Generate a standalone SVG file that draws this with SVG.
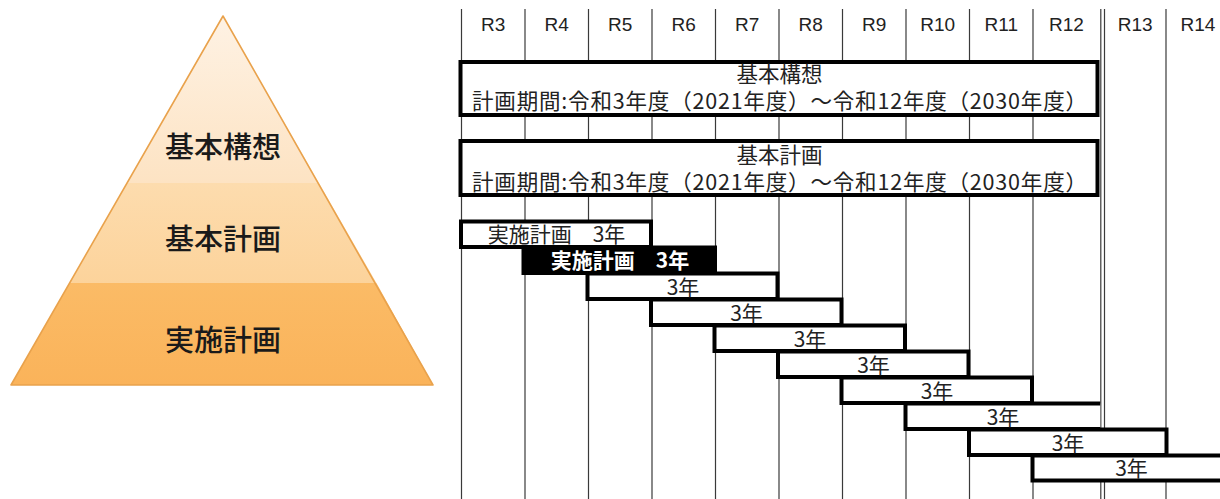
<svg xmlns="http://www.w3.org/2000/svg" width="1220" height="499" viewBox="0 0 1220 499">
<style>
.jp{font-family:"Noto Sans CJK JP","Noto Sans CJK SC",sans-serif;fill:#222;}
.hd{font-family:"Liberation Sans",Arial,sans-serif;font-size:19px;fill:#222;text-anchor:middle;}
.grid line{stroke:#3a3a3a;stroke-width:1.2;}
.box{fill:#fff;stroke:#000;stroke-width:4;}
.bt{font-family:"Noto Sans CJK JP","Noto Sans CJK SC",sans-serif;font-size:21px;fill:#222;text-anchor:middle;}
.pt{font-family:"Noto Sans CJK JP","Noto Sans CJK SC",sans-serif;font-size:29px;font-weight:500;fill:#1a1a1a;text-anchor:middle;}
</style>
<defs>
<linearGradient id="gTop" x1="0" y1="16" x2="0" y2="183" gradientUnits="userSpaceOnUse">
<stop offset="0" stop-color="#FEF2E4"/><stop offset="1" stop-color="#FDE3C3"/>
</linearGradient>
<linearGradient id="gMid" x1="0" y1="183" x2="0" y2="283" gradientUnits="userSpaceOnUse">
<stop offset="0" stop-color="#FDDCAE"/><stop offset="1" stop-color="#FCD39B"/>
</linearGradient>
<linearGradient id="gBot" x1="0" y1="283" x2="0" y2="385" gradientUnits="userSpaceOnUse">
<stop offset="0" stop-color="#FBBB66"/><stop offset="1" stop-color="#FAB35A"/>
</linearGradient>
</defs>
<rect width="1220" height="499" fill="#fff"/>

<g id="pyramid">
<g id="level-kihon-koso">
<polygon points="223,16 127.1,183 318.9,183" fill="url(#gTop)"/>
<text class="pt" x="223" y="158">基本構想</text>
</g>
<g id="level-kihon-keikaku">
<polygon points="127.1,183 318.9,183 376.4,283 69.6,283" fill="url(#gMid)"/>
<text class="pt" x="223" y="250">基本計画</text>
</g>
<g id="level-jisshi-keikaku">
<polygon points="69.6,283 376.4,283 433,385 11,385" fill="url(#gBot)"/>
<text class="pt" x="223" y="351">実施計画</text>
</g>
<polygon points="223,16 433,385 11,385" fill="none" stroke="#E9A24C" stroke-width="1.6" stroke-linejoin="round"/>
</g>

<g id="grid" class="grid">
<line x1="461.5" y1="9" x2="461.5" y2="499"/>
<line x1="525" y1="9" x2="525" y2="499"/>
<line x1="588.5" y1="9" x2="588.5" y2="499"/>
<line x1="652" y1="9" x2="652" y2="499"/>
<line x1="715.5" y1="9" x2="715.5" y2="499"/>
<line x1="779" y1="9" x2="779" y2="499"/>
<line x1="842.5" y1="9" x2="842.5" y2="499"/>
<line x1="906" y1="9" x2="906" y2="499"/>
<line x1="969.5" y1="9" x2="969.5" y2="499"/>
<line x1="1033" y1="9" x2="1033" y2="499"/>
<line x1="1100.8" y1="9" x2="1100.8" y2="499"/>
<line x1="1104.5" y1="9" x2="1104.5" y2="499"/>
<line x1="1166" y1="9" x2="1166" y2="499"/>
</g>

<g id="header">
<text class="hd" x="493.25" y="30.5">R3</text>
<text class="hd" x="556.75" y="30.5">R4</text>
<text class="hd" x="620.25" y="30.5">R5</text>
<text class="hd" x="683.75" y="30.5">R6</text>
<text class="hd" x="747.25" y="30.5">R7</text>
<text class="hd" x="810.75" y="30.5">R8</text>
<text class="hd" x="874.25" y="30.5">R9</text>
<text class="hd" x="937.75" y="30.5">R10</text>
<text class="hd" x="1001.25" y="30.5">R11</text>
<text class="hd" x="1066.5" y="30.5">R12</text>
<text class="hd" x="1135.25" y="30.5">R13</text>
<text class="hd" x="1198" y="30.5">R14</text>
</g>

<g id="box-kihon-koso">
<rect class="box" x="460.5" y="62" width="637" height="53"/>
<text class="jp" x="779.5" y="82" font-size="21.5" text-anchor="middle">基本構想</text>
<text class="jp" x="472" y="108.5" font-size="21.5" textLength="615" lengthAdjust="spacing">計画期間:令和3年度（2021年度）～令和12年度（2030年度）</text>
</g>

<g id="box-kihon-keikaku">
<rect class="box" x="460.5" y="141" width="637" height="54"/>
<text class="jp" x="779.5" y="163" font-size="21.5" text-anchor="middle">基本計画</text>
<text class="jp" x="472" y="190" font-size="21.5" textLength="615" lengthAdjust="spacing">計画期間:令和3年度（2021年度）～令和12年度（2030年度）</text>
</g>

<g id="bars">
<g id="bar-1">
<rect class="box" x="461" y="221.5" width="190" height="25.5"/>
<text class="bt" x="556.5" y="242">実施計画　3年</text>
</g>
<g id="bar-2">
<rect x="523.5" y="247.5" width="191.5" height="25.5" fill="#000" stroke="#000" stroke-width="4"/>
<text class="bt" x="620" y="268" style="fill:#fff;font-weight:bold">実施計画　3年</text>
</g>
<g id="bar-3">
<rect class="box" x="587.5" y="273.5" width="190" height="25.5"/>
<text class="bt" x="683" y="294.5">3年</text>
</g>
<g id="bar-4">
<rect class="box" x="651" y="299.5" width="190.5" height="25.5"/>
<text class="bt" x="746.5" y="320.5">3年</text>
</g>
<g id="bar-5">
<rect class="box" x="714.5" y="325.5" width="190.5" height="25.5"/>
<text class="bt" x="810" y="346.5">3年</text>
</g>
<g id="bar-6">
<rect class="box" x="778" y="351.5" width="190.5" height="25.5"/>
<text class="bt" x="873.5" y="372.5">3年</text>
</g>
<g id="bar-7">
<rect class="box" x="841.5" y="377.5" width="190.5" height="25.5"/>
<text class="bt" x="937" y="398.5">3年</text>
</g>
<g id="bar-8">
<rect x="905.5" y="403.5" width="194.7" height="25.5" fill="#fff"/>
<path d="M1100.2,403.5 H905.5 V429 H1100.2" fill="none" stroke="#000" stroke-width="4"/>
<text class="bt" x="1003" y="424.5">3年</text>
</g>
<g id="bar-9">
<rect class="box" x="969" y="429.5" width="197.5" height="25.5"/>
<text class="bt" x="1068" y="450.5">3年</text>
</g>
<g id="bar-10">
<rect class="box" x="1032.5" y="455.5" width="205" height="25"/>
<text class="bt" x="1131.5" y="476">3年</text>
</g>
</g>
</svg>
